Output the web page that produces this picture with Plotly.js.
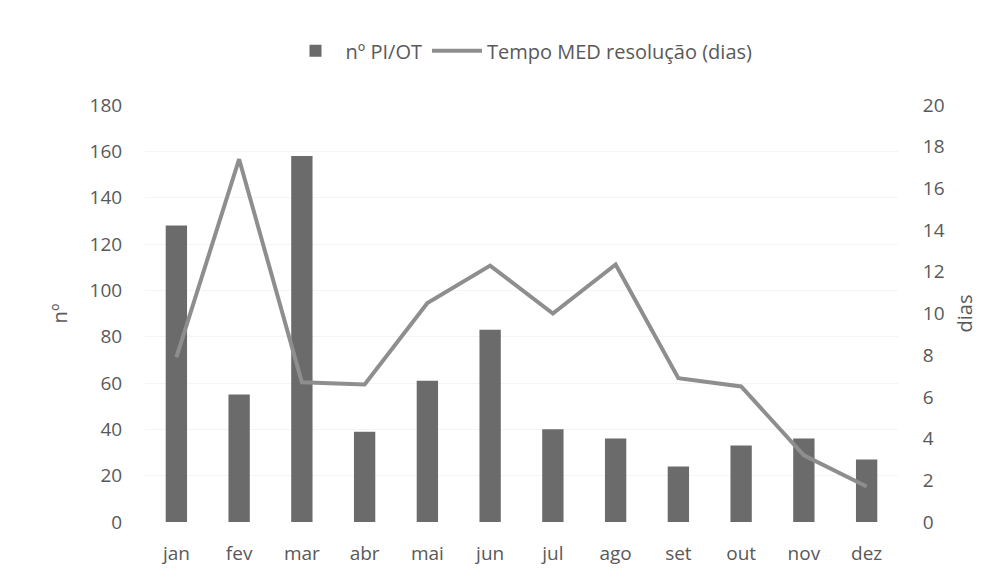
<!DOCTYPE html>
<html><head><meta charset="utf-8">
<script src="https://cdn.plot.ly/plotly-3.0.1.min.js"></script>
<style>html,body{margin:0;padding:0;background:#fff}#c{width:1005px;height:579px}</style>
</head><body><div id="c"></div>
<script>
var months = ["jan","fev","mar","abr","mai","jun","jul","ago","set","out","nov","dez"];
var nPIOT = [128, 55, 158, 39, 61, 83, 40, 36, 24, 33, 36, 27];
var tempoMed = [7.9, 17.4, 6.7, 6.6, 10.5, 12.3, 10.0, 12.35, 6.9, 6.5, 3.2, 1.7];
var leftTicks = [0,20,40,60,80,100,120,140,160,180];
var rightTicks = [0,2,4,6,8,10,12,14,16,18,20];

var fontFam = "Open Sans, Lato, sans-serif";
var txt = "#595959";
var data = [
  {type:"bar", x:months, y:nPIOT, name:"nº PI/OT", marker:{color:"#6b6b6b"}, width:0.34},
  {type:"scatter", mode:"lines", x:months, y:tempoMed, name:"Tempo MED resolução (dias)", yaxis:"y2",
   line:{color:"#8e8e8e", width:4}}
];
var layout = {
  width:1005, height:579,
  margin:{l:145, r:107, t:105, b:57},
  paper_bgcolor:"#fff", plot_bgcolor:"#fff",
  font:{family:fontFam, size:19, color:txt},
  showlegend:true,
  legend:{orientation:"h", x:0.5, xanchor:"center", y:1.13, yanchor:"middle", font:{size:20, color:txt}, itemwidth:50},
  xaxis:{type:"category", showgrid:false, zeroline:false, showline:false, ticks:"outside", ticklen:14, tickcolor:"rgba(0,0,0,0)", tickfont:{size:19, color:txt}},
  yaxis:{range:[0,180], tickvals:leftTicks, showgrid:true, gridcolor:"#f4f4f4", zeroline:false, showline:false,
    ticks:"outside", ticklen:18, tickcolor:"rgba(0,0,0,0)", tickfont:{size:19, color:txt},
    title:{text:"nº", font:{size:20, color:txt}, standoff:16}},
  yaxis2:{range:[0,20], tickvals:rightTicks, overlaying:"y", side:"right", showgrid:false, zeroline:false, showline:false,
    ticks:"outside", ticklen:20, tickcolor:"rgba(0,0,0,0)", tickfont:{size:19, color:txt},
    title:{text:"dias", font:{size:20, color:txt}, standoff:14}},
  bargap:0.66
};
Plotly.newPlot("c", data, layout, {displayModeBar:false, staticPlot:true});
</script></body></html>
